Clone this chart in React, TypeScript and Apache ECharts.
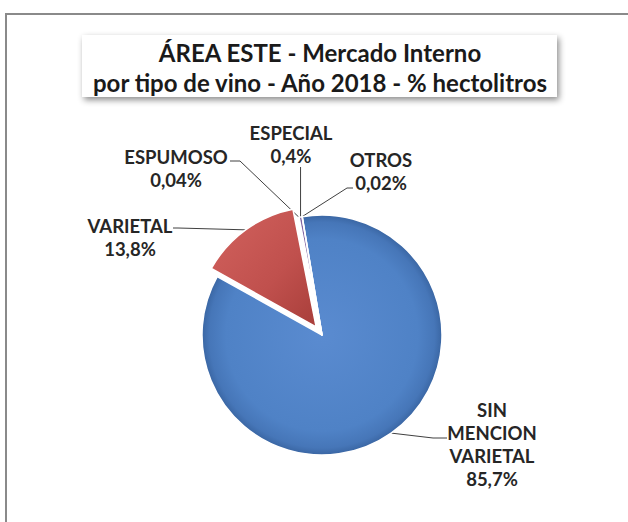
import React, { useEffect, useRef } from 'react';
import * as echarts from 'echarts';

const categories = ['SIN MENCION VARIETAL', 'VARIETAL', 'ESPUMOSO', 'ESPECIAL', 'OTROS'];
const values = [85.7, 13.8, 0.04, 0.4, 0.02];
const titleLines = ['ÁREA ESTE - Mercado Interno', 'por tipo de vino - Año 2018 - % hectolitros'];
const explodedIndex = 1;

const FONT = 'Lato';
const CENTER = [322, 335];
const RADIUS = 120;
const START_ANGLE = 99.5;
const EXPLODE = 10;

// label layout: anchor (block center) and elbow points of leader lines
const labelAnchors: number[][] = [[492, 444], [130, 237], [176, 168.5], [291, 144.5], [381, 171.5]];
const lineElbows: (number | null)[][][] = [
  [[433, 438], [447, 438]],
  [[178, 228], [173, 228]],
  [[240, 161], [230, 161]],
  [[null, 167], [null, 167]],
  [[347, 188], [353, 188]],
];

const sliceColors: any[] = [
  {
    type: 'radial', x: 0.5, y: 0.5, r: 0.5,
    colorStops: [
      { offset: 0, color: '#5a8bd0' },
      { offset: 0.8, color: '#4f82c6' },
      { offset: 0.94, color: '#4676b8' },
      { offset: 1, color: '#3a66a3' },
    ],
  },
  {
    type: 'linear', x: 0, y: 0, x2: 1, y2: 1,
    colorStops: [
      { offset: 0, color: '#d2625e' },
      { offset: 0.6, color: '#c0504d' },
      { offset: 1, color: '#a83e3a' },
    ],
  },
  '#9bbb59',
  '#8064a2',
  '#4bacc6',
];

function fmt(v: number) {
  return String(v).replace('.', ',') + '%';
}

export default function App() {
  const ref = useRef<HTMLDivElement>(null);
  useEffect(() => {
    document.body.style.margin = '0';
    const chart = echarts.init(ref.current!, null, { renderer: 'svg' });

    // direction of the exploded slice, from the data
    const total = values.reduce((a, b) => a + b, 0);
    let before = 0;
    for (let i = 0; i < explodedIndex; i++) before += values[i];
    const midFrac = (before + values[explodedIndex] / 2) / total;
    const midAngle = (START_ANGLE - midFrac * 360) * Math.PI / 180;
    const dx = Math.cos(midAngle) * EXPLODE;
    const dy = -Math.sin(midAngle) * EXPLODE;

    const transparent = 'rgba(0,0,0,0)';

    chart.setOption({
      animation: false,
      backgroundColor: '#ffffff',
      graphic: [
        {
          type: 'rect',
          z: -10,
          shape: { x: 6, y: 14, width: 700, height: 600 },
          style: { fill: 'none', stroke: '#8a8a8a', lineWidth: 2 },
          silent: true,
        },
        {
          type: 'rect',
          shape: { x: 82, y: 35, width: 475, height: 62 },
          style: {
            fill: '#ffffff',
            shadowBlur: 6,
            shadowOffsetX: 2,
            shadowOffsetY: 3,
            shadowColor: 'rgba(0,0,0,0.45)',
          },
          silent: true,
        },
        {
          type: 'text',
          x: 320,
          y: 67,
          style: {
            text: titleLines.join('\n'),
            align: 'center',
            verticalAlign: 'middle',
            fontFamily: FONT,
            fontWeight: 'bold',
            fontSize: 24,
            lineHeight: 30,
            fill: '#1a1a1a',
          },
          silent: true,
        },
      ],
      series: [
        {
          type: 'pie',
          center: CENTER,
          radius: [0, RADIUS],
          startAngle: START_ANGLE,
          clockwise: true,
          avoidLabelOverlap: false,
          emphasis: { disabled: true },
          itemStyle: { borderColor: '#ffffff', borderWidth: 1.5 },
          label: {
            show: true,
            position: 'outside',
            fontFamily: FONT,
            fontWeight: 'bold',
            fontSize: 18.5,
            lineHeight: 23,
            color: '#262626',
            align: 'center',
            formatter: (p: any) => p.name.split(' ').join('\n') + '\n' + fmt(p.value),
          },
          labelLine: {
            show: true,
            length: 10,
            length2: 10,
            lineStyle: { color: '#404040', width: 1 },
          },
          labelLayout: (params: any) => {
            const i = params.dataIndex;
            let edge = params.labelLinePoints ? params.labelLinePoints[0] : [0, 0];
            if (i === explodedIndex) edge = [edge[0] + dx, edge[1] + dy];
            const el = lineElbows[i].map((p) => [p[0] == null ? edge[0] : p[0], p[1]]);
            return {
              x: labelAnchors[i][0],
              y: labelAnchors[i][1],
              align: 'center',
              verticalAlign: 'middle',
              labelLinePoints: [edge, el[0], el[1]],
            };
          },
          data: categories.map((name, i) => ({
            name,
            value: values[i],
            itemStyle: i === explodedIndex
              ? { color: transparent, borderWidth: 0 }
              : { color: sliceColors[i] },
          })),
        },
        {
          type: 'pie',
          silent: true,
          center: [CENTER[0] + dx, CENTER[1] + dy],
          radius: [0, RADIUS],
          startAngle: START_ANGLE,
          clockwise: true,
          emphasis: { disabled: true },
          label: { show: false },
          labelLine: { show: false },
          data: categories.map((name, i) => ({
            name,
            value: values[i],
            itemStyle: i === explodedIndex
              ? { color: sliceColors[i], borderColor: '#ffffff', borderWidth: 1.5 }
              : { color: transparent, borderWidth: 0 },
          })),
        },
      ],
    });
    return () => chart.dispose();
  }, []);
  return <div ref={ref} style={{ width: 628, height: 522 }} />;
}
